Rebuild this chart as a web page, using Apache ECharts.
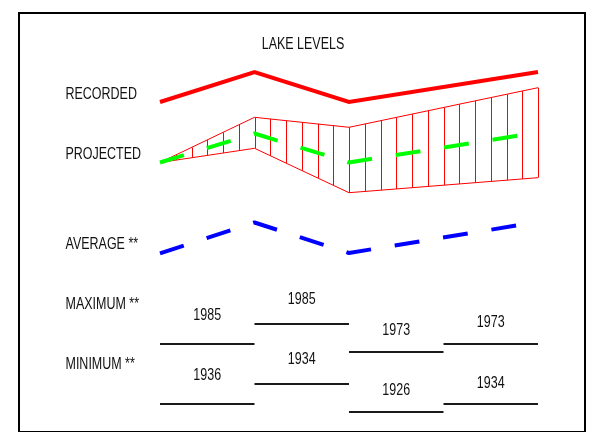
<!DOCTYPE html>
<html>
<head>
<meta charset="utf-8">
<script src="https://cdn.jsdelivr.net/npm/echarts@6/dist/echarts.min.js"></script>
<style>html,body{margin:0;padding:0;background:#fff}#chart{width:599px;height:432px}</style>
</head>
<body>
<div id="chart"></div>
<script>
var FONT = "16px 'Liberation Sans', Arial, sans-serif";
var NARROW = 0.78;

// row captions and the level each sits at
var rowNames = ['RECORDED', 'PROJECTED', 'AVERAGE **', 'MAXIMUM **', 'MINIMUM **'];
var rowLevels = [338.7, 278, 188, 128, 68];

// break points of the lines
var stepX = [0, 1, 2, 4];
var recorded = [330, 360, 330, 360];
var projUpper = [269.5, 314.7, 304.7, 344.3];
var projLower = [269.5, 283.7, 239.3, 254.3];
var projected = [269.5, 298.5, 269.5, 299.5];
var average = [178.7, 209.5, 179, 210];

// max / min record per period
var periodStart = [0, 1, 2, 3];
var periodEnd = [1, 2, 3, 4];
var maxLevel = [87.7, 108, 80.3, 88.5];
var maxYear = ['1985', '1985', '1973', '1973'];
var minLevel = [28, 48, 20.3, 28];
var minYear = ['1936', '1934', '1926', '1934'];

// styling
var yearLift = [29.5, 25, 22.5, 21.5];
var hatchPerUnit = 6;

function pairs(xs, ys) {
	var out = [];
	for (var i = 0; i < xs.length; ++i) out.push([xs[i], ys[i]]);
	return out;
}

var bandSegs = [];
for (var i = 0; i < stepX.length - 1; ++i) {
	bandSegs.push([stepX[i], stepX[i + 1], projUpper[i], projUpper[i + 1], projLower[i], projLower[i + 1]]);
}

function periodData(levels) {
	var out = [];
	for (var i = 0; i < levels.length; ++i) out.push([periodStart[i], periodEnd[i], levels[i]]);
	return out;
}

// narrow text: plain sans squeezed horizontally
function narrowText(str, x, y, align) {
	return {
		type: 'text', x: x, y: y + 1, scaleX: NARROW,
		style: { text: str, x: 0, y: 0, align: align, verticalAlign: 'middle', font: FONT, fill: '#111' }
	};
}

function renderBand(params, api) {
	var x0 = api.value(0), x1 = api.value(1);
	var ua = api.coord([x0, api.value(2)]), ub = api.coord([x1, api.value(3)]);
	var la = api.coord([x0, api.value(4)]), lb = api.coord([x1, api.value(5)]);
	var st = { stroke: '#ff0000', lineWidth: 1 };
	var kids = [
		{ type: 'line', shape: { x1: ua[0], y1: ua[1], x2: ub[0], y2: ub[1] }, style: st },
		{ type: 'line', shape: { x1: la[0], y1: la[1], x2: lb[0], y2: lb[1] }, style: st }
	];
	var n = Math.round((x1 - x0) * hatchPerUnit);
	for (var k = 1; k <= n; ++k) {
		var t = k / n;
		var px = Math.round(ua[0] + t * (ub[0] - ua[0])) + 0.5;
		kids.push({
			type: 'line',
			shape: { x1: px, y1: ua[1] + t * (ub[1] - ua[1]), x2: px, y2: la[1] + t * (lb[1] - la[1]) },
			style: st
		});
	}
	return { type: 'group', children: kids };
}

function yearRenderer(years) {
	return function (params, api) {
		var a = api.coord([api.value(0), api.value(2)]);
		var b = api.coord([api.value(1), api.value(2)]);
		var y = Math.round(a[1]);
		return {
			type: 'group',
			children: [
				{ type: 'line', shape: { x1: a[0], y1: y, x2: b[0], y2: y }, style: { stroke: '#1a1a1a', lineWidth: 2 } },
				narrowText(years[params.dataIndex], (a[0] + b[0]) / 2, a[1] - yearLift[params.dataIndex], 'center')
			]
		};
	};
}

var myChart = echarts.init(document.getElementById('chart'));
var option = {
	animation: false,
	backgroundColor: '#fff',
	graphic: [narrowText('LAKE LEVELS', 303, 44, 'center')],
	grid: [
		{ show: true, left: 19, top: 13, right: 14, bottom: -20, borderColor: '#000', borderWidth: 2, backgroundColor: 'transparent' },
		{ left: 65.5, right: 61, top: 0, bottom: 0 }
	],
	xAxis: [
		{ gridIndex: 0, type: 'value', show: false, min: 0, max: 1 },
		{ gridIndex: 1, type: 'value', show: false, min: -1, max: 4 }
	],
	yAxis: [
		{ gridIndex: 0, type: 'value', show: false, min: 0, max: 1 },
		{ gridIndex: 1, type: 'value', show: false, min: 0, max: 432 }
	],
	series: [
		{
			type: 'custom', xAxisIndex: 1, yAxisIndex: 1, z: 1,
			renderItem: renderBand, data: bandSegs
		},
		{
			type: 'line', xAxisIndex: 1, yAxisIndex: 1, z: 3,
			data: pairs(stepX, recorded), symbol: 'none',
			lineStyle: { color: '#ff0000', width: 4, join: 'miter' }
		},
		{
			type: 'line', xAxisIndex: 1, yAxisIndex: 1, z: 3,
			data: pairs(stepX, projected), symbol: 'none',
			lineStyle: { color: '#00ff00', width: 4, type: [25, 24], cap: 'butt' }
		},
		{
			type: 'line', xAxisIndex: 1, yAxisIndex: 1, z: 3,
			data: pairs(stepX, average), symbol: 'none',
			lineStyle: { color: '#0000ff', width: 4, type: [25, 24], cap: 'butt' }
		},
		{
			type: 'custom', xAxisIndex: 1, yAxisIndex: 1, z: 3,
			renderItem: yearRenderer(maxYear), data: periodData(maxLevel)
		},
		{
			type: 'custom', xAxisIndex: 1, yAxisIndex: 1, z: 3,
			renderItem: yearRenderer(minYear), data: periodData(minLevel)
		},
		{
			type: 'custom', xAxisIndex: 1, yAxisIndex: 1, z: 3,
			data: rowLevels.map(function (v) { return [-1, v]; }),
			renderItem: function (params, api) {
				var p = api.coord([api.value(0), api.value(1)]);
				return narrowText(rowNames[params.dataIndex], p[0], p[1], 'left');
			}
		}
	]
};
myChart.setOption(option);
</script>
</body>
</html>
